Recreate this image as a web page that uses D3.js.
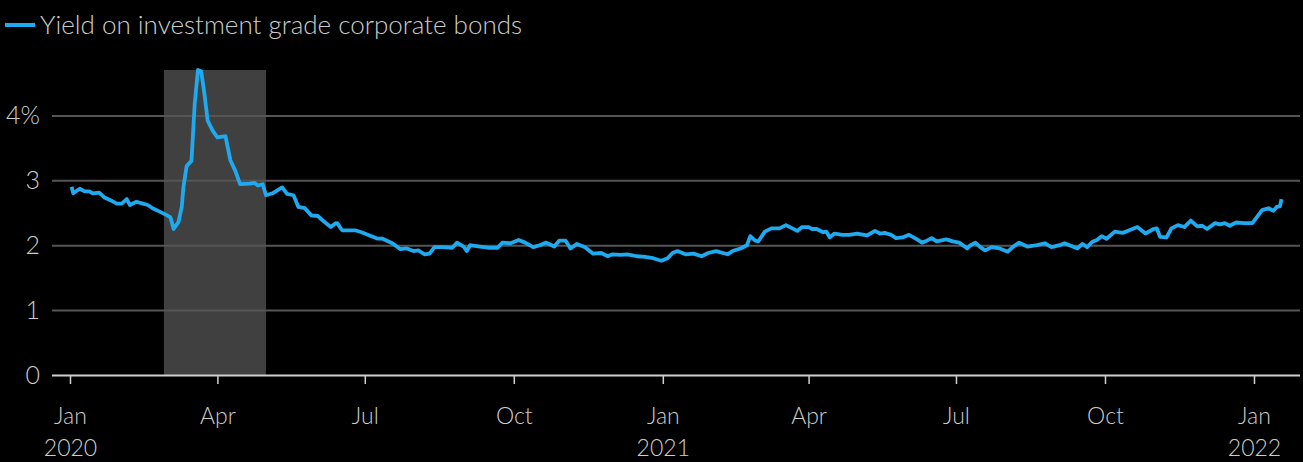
<!DOCTYPE html>
<html>
<head>
<meta charset="utf-8">
<script src="https://cdn.jsdelivr.net/npm/d3@7"></script>
<style>
  html, body { margin: 0; padding: 0; background: #000; }
  svg { display: block; font-family: Lato, "Open Sans", sans-serif; font-weight: 300; }
</style>
</head>
<body>
<div id="chart"></div>
<script>
// yield on investment grade corporate bonds
const dates = [
  "2020-01-02","2020-01-03","2020-01-07","2020-01-10","2020-01-13","2020-01-15","2020-01-19","2020-01-22","2020-01-27","2020-01-30",
  "2020-02-02","2020-02-05","2020-02-07","2020-02-11","2020-02-15","2020-02-18","2020-02-21","2020-02-26","2020-03-01","2020-03-03",
  "2020-03-05","2020-03-08","2020-03-10","2020-03-11","2020-03-13","2020-03-16","2020-03-18","2020-03-20","2020-03-22","2020-03-24",
  "2020-03-26","2020-03-29","2020-04-01","2020-04-06","2020-04-09","2020-04-12","2020-04-15","2020-04-21","2020-04-24","2020-04-26",
  "2020-04-29","2020-05-01","2020-05-05","2020-05-11","2020-05-14","2020-05-18","2020-05-21","2020-05-25","2020-05-29","2020-06-02",
  "2020-06-06","2020-06-10","2020-06-13","2020-06-14","2020-06-17","2020-06-22","2020-06-25","2020-06-29","2020-07-04","2020-07-09",
  "2020-07-12","2020-07-18","2020-07-23","2020-07-27","2020-07-31","2020-08-03","2020-08-07","2020-08-10","2020-08-13","2020-08-18",
  "2020-08-24","2020-08-27","2020-08-31","2020-09-02","2020-09-04","2020-09-10","2020-09-16","2020-09-21","2020-09-24","2020-09-29",
  "2020-10-04","2020-10-08","2020-10-13","2020-10-17","2020-10-21","2020-10-26","2020-10-29","2020-11-02","2020-11-05","2020-11-09",
  "2020-11-14","2020-11-19","2020-11-24","2020-11-28","2020-12-01","2020-12-06","2020-12-10","2020-12-16","2020-12-21","2020-12-26",
  "2020-12-31","2021-01-04","2021-01-07","2021-01-10","2021-01-15","2021-01-20","2021-01-25","2021-01-29","2021-02-03","2021-02-10",
  "2021-02-13","2021-02-18","2021-02-22","2021-02-24","2021-02-27","2021-03-01","2021-03-05","2021-03-09","2021-03-14","2021-03-18",
  "2021-03-22","2021-03-25","2021-03-28","2021-04-01","2021-04-03","2021-04-06","2021-04-10","2021-04-12","2021-04-14","2021-04-17",
  "2021-04-22","2021-04-26","2021-05-01","2021-05-07","2021-05-12","2021-05-15","2021-05-18","2021-05-22","2021-05-25","2021-05-29",
  "2021-06-02","2021-06-07","2021-06-10","2021-06-13","2021-06-16","2021-06-19","2021-06-25","2021-06-29","2021-07-03","2021-07-08",
  "2021-07-10","2021-07-13","2021-07-16","2021-07-19","2021-07-23","2021-07-28","2021-08-02","2021-08-05","2021-08-09","2021-08-14",
  "2021-08-20","2021-08-25","2021-08-29","2021-09-03","2021-09-06","2021-09-11","2021-09-14","2021-09-17","2021-09-20","2021-09-23",
  "2021-09-26","2021-09-29","2021-10-02","2021-10-07","2021-10-12","2021-10-16","2021-10-21","2021-10-26","2021-10-31","2021-11-02",
  "2021-11-04","2021-11-08","2021-11-11","2021-11-15","2021-11-19","2021-11-23","2021-11-27","2021-11-30","2021-12-03","2021-12-08",
  "2021-12-11","2021-12-14","2021-12-17","2021-12-21","2021-12-26","2021-12-31","2022-01-03","2022-01-06","2022-01-10","2022-01-13",
  "2022-01-15","2022-01-17","2022-01-18"
];
const yields = [
  2.90,2.80,2.87,2.83,2.83,2.80,2.81,2.74,2.68,2.64,
  2.64,2.71,2.62,2.67,2.64,2.62,2.57,2.51,2.46,2.43,
  2.25,2.36,2.59,2.89,3.22,3.30,4.18,4.70,4.68,4.33,
  3.92,3.77,3.66,3.68,3.31,3.15,2.94,2.95,2.96,2.92,
  2.94,2.77,2.80,2.89,2.79,2.77,2.59,2.57,2.46,2.45,
  2.36,2.28,2.34,2.34,2.23,2.23,2.23,2.20,2.15,2.10,
  2.10,2.03,1.94,1.95,1.91,1.92,1.86,1.87,1.97,1.97,
  1.96,2.04,1.98,1.91,2.00,1.98,1.96,1.96,2.04,2.03,
  2.08,2.04,1.97,2.00,2.04,1.98,2.07,2.07,1.95,2.02,
  1.97,1.87,1.88,1.83,1.86,1.85,1.86,1.83,1.82,1.80,
  1.76,1.80,1.88,1.91,1.86,1.87,1.83,1.88,1.91,1.86,
  1.91,1.95,2.00,2.14,2.07,2.06,2.21,2.26,2.26,2.31,
  2.26,2.22,2.28,2.28,2.25,2.25,2.20,2.21,2.12,2.18,
  2.16,2.16,2.18,2.15,2.22,2.18,2.19,2.16,2.11,2.12,
  2.16,2.09,2.04,2.07,2.11,2.06,2.09,2.06,2.04,1.95,
  2.00,2.04,1.97,1.92,1.97,1.95,1.90,1.97,2.04,1.98,
  2.00,2.03,1.97,2.00,2.03,1.98,1.95,2.02,1.97,2.05,
  2.08,2.14,2.10,2.21,2.19,2.23,2.28,2.18,2.25,2.26,
  2.13,2.12,2.26,2.31,2.28,2.38,2.29,2.30,2.25,2.34,
  2.32,2.34,2.30,2.35,2.34,2.34,2.44,2.54,2.57,2.53,
  2.59,2.60,2.71
];
const recession = ["2020-02-28", "2020-05-01"];
const yTicks = [0, 1, 2, 3, 4];
const xTicks = ["2020-01-01","2020-04-01","2020-07-01","2020-10-01","2021-01-01","2021-04-01","2021-07-01","2021-10-01","2022-01-01"];
const monthLabels = ["Jan","Apr","Jul","Oct","Jan","Apr","Jul","Oct","Jan"];
const yearLabels = ["2020","","","","2021","","","","2022"];
const seriesName = "Yield on investment grade corporate bonds";

const parse = d3.timeParse("%Y-%m-%d");
const data = dates.map((d, i) => ({ date: parse(d), value: yields[i] }));

const outerWidth = 1303, outerHeight = 462;
const margin = { top: 70, right: 3, bottom: 87, left: 52 };
const width = outerWidth - margin.left - margin.right;
const height = outerHeight - margin.top - margin.bottom;

const blue = "#1fa9ee";
const textColor = "#cccccc";

const svg = d3.select("#chart").append("svg")
  .attr("width", outerWidth)
  .attr("height", outerHeight);

// legend
svg.append("line")
  .attr("x1", 5).attr("x2", 35).attr("y1", 25).attr("y2", 25)
  .attr("stroke", blue).attr("stroke-width", 4);
svg.append("text")
  .attr("x", 40).attr("y", 34)
  .attr("fill", textColor)
  .style("font-size", "26px")
  .text(seriesName);

const g = svg.append("g")
  .attr("transform", "translate(" + margin.left + "," + margin.top + ")");

const x = d3.scaleTime()
  .domain([parse("2020-01-01"), parse("2022-01-01")])
  .range([18, 1202]);
const y = d3.scaleLinear()
  .domain([0, 4.7])
  .range([height, 0]);

// recession shading
g.append("rect")
  .attr("x", x(parse(recession[0])))
  .attr("width", x(parse(recession[1])) - x(parse(recession[0])))
  .attr("y", y(4.7))
  .attr("height", y(0) - y(4.7))
  .attr("fill", "#404040");

// y gridlines + labels
const yAxis = g.append("g")
  .call(d3.axisLeft(y)
    .tickValues(yTicks)
    .tickSize(-width)
    .tickPadding(12)
    .tickFormat(d => d === 4 ? "4%" : d));
yAxis.select(".domain").remove();
yAxis.selectAll(".tick line")
  .attr("stroke", d => d === 0 ? "#d0d0d0" : "#555")
  .attr("stroke-width", 2);
yAxis.selectAll(".tick text")
  .attr("fill", textColor)
  .style("font-size", "25px")
  .style("font-family", "Lato, 'Open Sans', sans-serif");

// x axis
const xAxis = g.append("g")
  .attr("transform", "translate(0," + height + ")")
  .call(d3.axisBottom(x)
    .tickValues(xTicks.map(parse))
    .tickSize(9)
    .tickFormat(""));
xAxis.select(".domain").remove();
xAxis.selectAll(".tick line")
  .attr("stroke", "#d0d0d0")
  .attr("stroke-width", 1.5);
xAxis.selectAll(".tick").each(function (d, i) {
  const t = d3.select(this);
  t.append("text")
    .attr("y", 49)
    .attr("text-anchor", "middle")
    .attr("fill", textColor)
    .style("font-size", "23px")
    .style("font-family", "Lato, 'Open Sans', sans-serif")
    .text(monthLabels[i]);
  if (yearLabels[i]) {
    t.append("text")
      .attr("y", 81)
      .attr("text-anchor", "middle")
      .attr("fill", textColor)
      .style("font-size", "23px")
      .style("font-family", "Lato, 'Open Sans', sans-serif")
      .text(yearLabels[i]);
  }
});

// line
const line = d3.line()
  .x(d => x(d.date))
  .y(d => y(d.value));

g.append("path")
  .datum(data)
  .attr("fill", "none")
  .attr("stroke", blue)
  .attr("stroke-width", 3.8)
  .attr("stroke-linejoin", "round")
  .attr("d", line);
</script>
</body>
</html>
